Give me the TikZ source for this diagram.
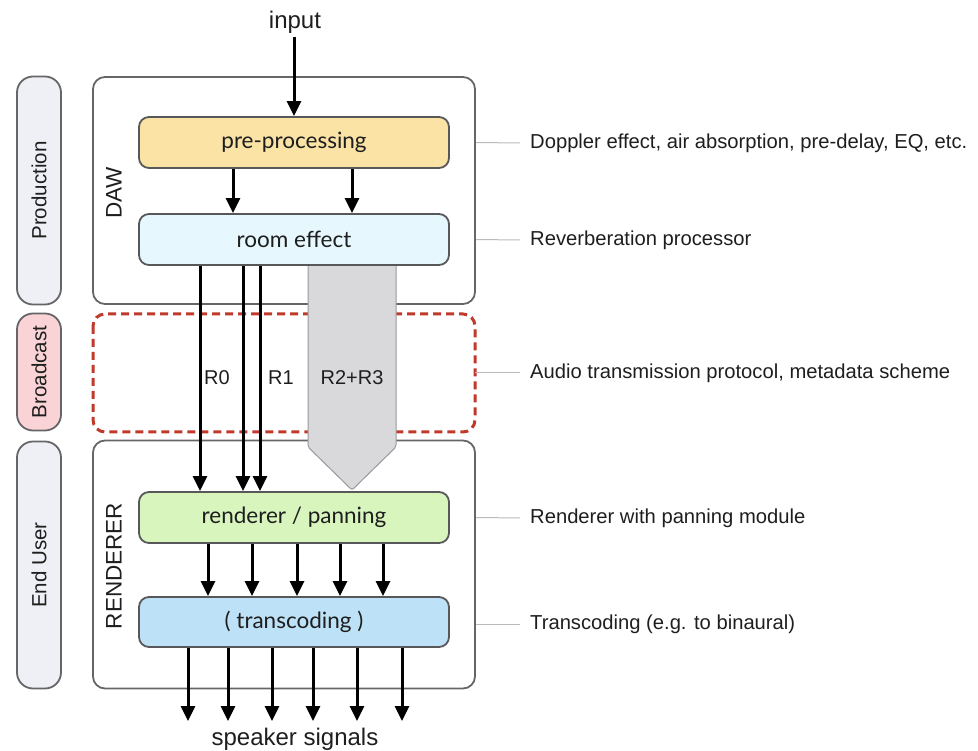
\documentclass[tikz,border=0pt]{standalone}
\usepackage{fontspec}
\setmainfont{Liberation Sans}
\newfontfamily\gillfont{Lato}
\usetikzlibrary{arrows.meta,calc}
\definecolor{boxgrey}{HTML}{666668}
\definecolor{procgrey}{HTML}{58585A}
\definecolor{prefill}{HTML}{FBE3A6}
\definecolor{roomfill}{HTML}{E6F8FD}
\definecolor{rendfill}{HTML}{D9F5BE}
\definecolor{transfill}{HTML}{BDE1F6}
\definecolor{pillfill}{HTML}{EEF0F6}
\definecolor{pinkfill}{HTML}{F9D3D6}
\definecolor{dashred}{HTML}{C0392B}
\definecolor{arrowfill}{HTML}{D9D9DB}
\definecolor{arrowedge}{HTML}{9A9A9C}
\definecolor{leadgrey}{HTML}{BBBBBB}
\definecolor{txt}{HTML}{1E1E1E}
\begin{document}
\begin{tikzpicture}[x=1pt,y=-1pt,
  container/.style={draw=boxgrey, line width=1.8pt, rounded corners=12pt, minimum width=382pt, inner sep=0pt, fill=white},
  proc/.style={draw=procgrey, line width=1.8pt, rounded corners=10pt, minimum width=310pt, minimum height=51pt, inner sep=0pt, font=\gillfont\fontsize{22.5}{26}\selectfont, text=txt},
  pill/.style={draw=boxgrey, line width=1.8pt, rounded corners=16pt, minimum height=44pt, inner sep=0pt, rotate=90, font=\fontsize{20.5}{24}\selectfont, text=txt},
  vlabel/.style={rotate=90, font=\fontsize{22.5}{26}\selectfont, text=txt},
  arr/.style={line width=3pt, -{Triangle[width=14pt,length=15pt]}},
  lead/.style={draw=leadgrey, line width=1pt},
  note/.style={anchor=west, font=\fontsize{20.2}{24}\selectfont, text=txt, inner sep=0pt},
  rlab/.style={font=\fontsize{20}{24}\selectfont, text=txt}
]
\useasboundingbox (0,0) rectangle (978,751);

% containers
\node[container, minimum height=227pt] (daw) at (284,190.5) {};
\node[container, minimum height=248pt] (rend) at (284,564.5) {};
\draw[dashred, line width=3pt, dash pattern=on 8pt off 5pt, rounded corners=12pt] (93,314) rectangle (475,432);
\coordinate (bc) at (475,373);

% side pills
\node[pill, fill=pillfill, minimum width=228pt] (prod) at (39,190.5) {Production};
\node[pill, fill=pinkfill, minimum width=117pt] (broad) at (39,372) {Broadcast};
\node[pill, fill=pillfill, minimum width=247pt] (enduser) at (39,565) {End User};

% vertical labels
\node[vlabel] (dawl) at (114,193) {DAW};
\node[vlabel] (rendl) at (114,566) {RENDERER};

% grey broad arrow (R2+R3)
\draw[draw=arrowedge, fill=arrowfill, line width=1pt, rounded corners=2pt]
  (308,258) -- (308,447) -- (352,490) -- (396,447) -- (396,258);

% processing boxes
\node[proc, fill=prefill] (pre) at (294,142.5) {pre-processing};
\node[proc, fill=roomfill] (room) at (294,239.5) {room effect};
\node[proc, fill=rendfill] (pan) at (294,517.5) {renderer / panning};
\node[proc, fill=transfill, minimum height=50pt] (trans) at (294,622) {( transcoding )};

% input
\node[font=\fontsize{24}{28}\selectfont, text=txt] (input) at (295,22) {input};
\draw[arr] (pre.north |- input.south) -- (pre.north);

% pre -> room
\foreach \x in {233,352} {
  \draw[arr] (pre.south -| \x,0) -- (room.north -| \x,0);
}

% R lines
\foreach \x in {200,243,260} {
  \draw[arr] (room.south -| \x,0) -- (pan.north -| \x,0);
}
\node[rlab] (r0) at (217,378) {R0};
\node[rlab] (r1) at (281,378) {R1};
\node[rlab] (r23) at (352,378) {R2+R3};

% pan -> trans
\foreach \x in {208,252,297,340,383} {
  \draw[arr] (pan.south -| \x,0) -- (trans.north -| \x,0);
}

% outputs
\node[font=\fontsize{24}{28}\selectfont, text=txt] (spk) at (295,739) {speaker signals};
\foreach \x [count=\i] in {188,228,272,313,357,402} {
  \coordinate (o\i) at (\x,721);
  \draw[arr] (trans.south -| o\i) -- (o\i);
}

% right annotations
\node[note] (n1) at (530,143) {Doppler effect, air absorption, pre-delay, EQ, etc.};
\node[note] (n2) at (530,240) {Reverberation processor};
\node[note] (n3) at (530,373) {Audio transmission protocol, metadata scheme};
\node[note] (n4) at (530,518) {Renderer with panning module};
\node[note] (n5) at (530,624) {Transcoding (e.g. to binaural)};
\draw[lead] (daw.east |- pre) -- ($(n1.west)+(-10,0)$);
\draw[lead] (daw.east |- room) -- ($(n2.west)+(-10,0)$);
\draw[lead] (bc) -- ($(n3.west)+(-10,0)$);
\draw[lead] (rend.east |- pan) -- ($(n4.west)+(-10,0)$);
\draw[lead] (rend.east |- n5) -- ($(n5.west)+(-10,0)$);
\end{tikzpicture}
\end{document}
